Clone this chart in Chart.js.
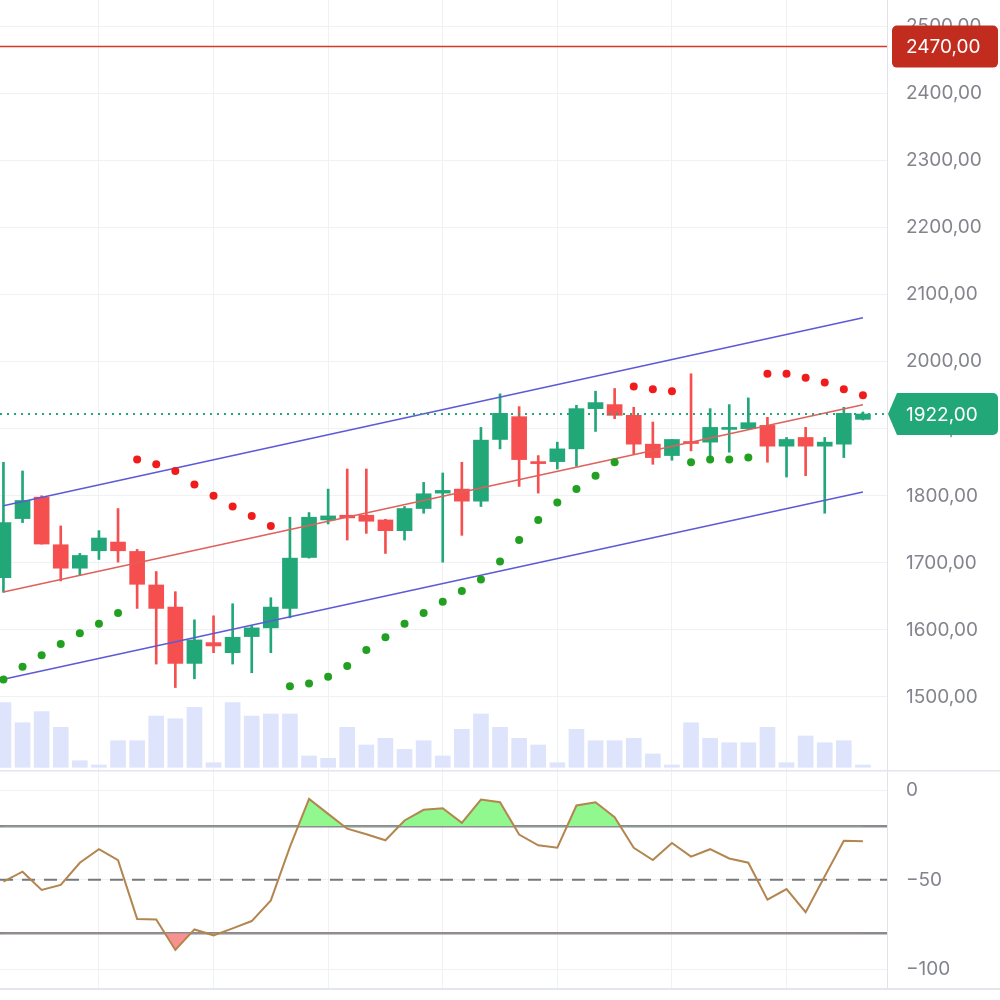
<!DOCTYPE html>
<html>
<head>
<meta charset="utf-8">
<title>Price chart</title>
<script src="https://cdn.jsdelivr.net/npm/chart.js@4.4.1/dist/chart.umd.min.js"></script>
<style>
    html, body { margin: 0; padding: 0; background: #fff; }
    #wrap { position: relative; width: 1000px; height: 1000px; overflow: hidden; }
    #priceBox { position: absolute; left: 0; top: 0; width: 1000px; height: 770px; }
    #oscBox { position: absolute; left: 0; top: 770px; width: 1000px; height: 230px; }
</style>
</head>
<body>
<div id="wrap">
    <div id="priceBox"><canvas id="priceChart"></canvas></div>
    <div id="oscBox"><canvas id="oscChart"></canvas></div>
</div>
<script>
/* Candles + volume + SAR + regression channel, Williams %R below */

const opens  = [1678, 1766, 1798, 1727, 1692, 1718, 1731, 1717, 1667, 1634, 1550, 1581, 1566, 1590, 1603, 1632,
                1708, 1764, 1771, 1771, 1764, 1748, 1781, 1804, 1810, 1792, 1884, 1918, 1851, 1851, 1870, 1930,
                1936, 1920, 1877, 1860, 1881, 1880, 1899, 1900, 1905, 1874, 1887, 1874, 1877, 1914];
const highs  = [1850, 1837, 1800, 1755, 1714, 1748, 1781, 1720, 1687, 1657, 1615, 1621, 1639, 1606, 1648, 1768,
                1775, 1810, 1840, 1840, 1765, 1784, 1820, 1834, 1850, 1902, 1952, 1933, 1860, 1880, 1935, 1956,
                1960, 1932, 1910, 1884, 1982, 1930, 1936, 1946, 1917, 1887, 1902, 1887, 1932, 1925];
const lows   = [1656, 1760, 1728, 1673, 1681, 1705, 1701, 1632, 1549, 1514, 1527, 1566, 1549, 1536, 1566, 1618,
                1707, 1758, 1734, 1744, 1714, 1734, 1774, 1701, 1741, 1784, 1870, 1814, 1804, 1840, 1844, 1896,
                1915, 1862, 1847, 1853, 1867, 1860, 1865, 1899, 1850, 1828, 1830, 1774, 1857, 1913];
const closes = [1760, 1793, 1728, 1692, 1711, 1737, 1718, 1668, 1632, 1550, 1585, 1576, 1589, 1603, 1634, 1707,
                1768, 1770, 1767, 1762, 1748, 1781, 1803, 1808, 1792, 1883, 1923, 1854, 1848, 1870, 1930, 1939,
                1920, 1877, 1857, 1884, 1878, 1902, 1902, 1909, 1874, 1884, 1874, 1880, 1923, 1922];

// volume, thousands
const volumes = [646, 446, 556, 400, 66, 23, 266, 266, 513, 486, 600, 46, 646, 513, 533, 533,
                 113, 90, 400, 223, 290, 180, 266, 113, 380, 533, 400, 290, 223, 46, 380, 266,
                 266, 290, 133, 23, 446, 290, 246, 246, 400, 46, 313, 246, 266, 23];

// parabolic SAR
const sar = [1526, 1545, 1562, 1579, 1595, 1609, 1625, 1854, 1847, 1837, 1817, 1800, 1784, 1770, 1755, 1516,
             1520, 1530, 1546, 1570, 1589, 1609, 1625, 1642, 1658, 1675, 1702, 1734, 1764, 1790, 1810, 1830,
             1850, 1963, 1959, 1956, 1850, 1854, 1854, 1857, 1982, 1982, 1976, 1969, 1959, 1950];

// Williams %R
const williamsR = [-51, -45.4, -55.6, -52.8, -40.4, -32.8, -38.9, -71.9, -72.2, -89.3, -77.8, -81.1, -77.2, -73.1, -61.5, -31.5,
                   -4.6, -13, -21.3, -24.4, -27.8, -16.7, -10.7, -9.8, -18, -5, -6.5, -24.6, -30.6, -32, -8.3, -6.5,
                   -14.8, -32, -38.9, -29.3, -37, -32.8, -38, -40.4, -61.1, -55.2, -68.1, -48, -28.1, -28.3];

// regression channel, value at first and last candle
const channelMid   = [1656.6, 1935.8];
const channelUpper = [1785.2, 2065.5];
const channelLower = [1526.4, 1805.6];

const alertLevel = 2470;
const priceTicks = [1500, 1600, 1700, 1800, 1900, 2000, 2100, 2200, 2300, 2400, 2500];
const oscTicks = [-100, -50, 0];
const oscBands = [-20, -80];
const oscMid = -50;
const xGridTicks = [5, 11, 17, 23, 29, 35, 41];

const UP = '#22a779';
const DOWN = '#f5504f';
const GRID = '#f0f1f5';
const AXIS_TEXT = '#83848d';
const AXIS_LINE = '#e2e3ea';

Chart.defaults.font.family = 'Inter, "Noto Sans", sans-serif';

const idx = closes.map((_, i) => i);
const lastIdx = idx.length - 1;
const candleColors = idx.map(i => closes[i] >= opens[i] ? UP : DOWN);
const sarColors = idx.map(i => sar[i] > closes[i] ? '#f01c1c' : '#22a022');
const fmtPrice = v => v.toFixed(2).replace('.', ',');
const fmtOsc = v => String(v).replace('-', '\u2212');

function timeAxis() {
    return {
        type: 'linear',
        min: -0.18,
        max: 46.26,
        offset: false,
        afterBuildTicks: s => { s.ticks = xGridTicks.map(v => ({ value: v })); },
        afterFit: s => { s.height = 0; },
        ticks: { display: false },
        grid: { color: GRID, drawTicks: false, offset: false },
        border: { display: false },
    };
}

function valueAxis(min, max, ticks, fmt) {
    return {
        position: 'right',
        min: min,
        max: max,
        afterBuildTicks: s => { s.ticks = ticks.map(v => ({ value: v })); },
        afterFit: s => { s.width = 113; s.paddingTop = 0; s.paddingBottom = 0; },
        ticks: { color: AXIS_TEXT, font: { size: 19 }, padding: 19, callback: v => fmt(v) },
        grid: { color: GRID, drawTicks: false },
        border: { color: AXIS_LINE },
    };
}

function channelLine(vals, color) {
    return {
        type: 'line',
        data: [{ x: 0, y: vals[0] }, { x: lastIdx, y: vals[1] }],
        borderColor: color,
        borderWidth: 1.5,
        pointRadius: 0,
        order: 1,
    };
}

const priceMarks = {
    id: 'priceMarks',
    afterDatasetsDraw(chart) {
        const { ctx, chartArea: a, scales: { y } } = chart;
        const ya = y.getPixelForValue(alertLevel);
        const yl = y.getPixelForValue(closes[lastIdx]);
        ctx.save();
        ctx.strokeStyle = '#d23a2c';
        ctx.lineWidth = 1.5;
        ctx.beginPath();
        ctx.moveTo(a.left, ya);
        ctx.lineTo(a.right, ya);
        ctx.stroke();
        ctx.strokeStyle = UP;
        ctx.lineWidth = 2;
        ctx.setLineDash([2, 5]);
        ctx.beginPath();
        ctx.moveTo(a.left, yl);
        ctx.lineTo(a.right, yl);
        ctx.stroke();
        ctx.restore();
    },
    afterDraw(chart) {
        const { ctx, chartArea: a, scales: { y } } = chart;
        const ya = y.getPixelForValue(alertLevel);
        const yl = y.getPixelForValue(closes[lastIdx]);
        const r = chart.width - 2;
        const h = 21;
        ctx.save();
        // alert level tag
        ctx.fillStyle = '#c22c1f';
        ctx.beginPath();
        ctx.roundRect(a.right + 5, ya - h, r - a.right - 5, 2 * h, 5);
        ctx.fill();
        // last price tag with pointer
        const l = a.right + 10;
        ctx.fillStyle = UP;
        ctx.beginPath();
        ctx.moveTo(a.right + 1, yl);
        ctx.lineTo(l, yl - h);
        ctx.lineTo(r - 5, yl - h);
        ctx.arcTo(r, yl - h, r, yl - h + 5, 5);
        ctx.lineTo(r, yl + h - 5);
        ctx.arcTo(r, yl + h, r - 5, yl + h, 5);
        ctx.lineTo(l, yl + h);
        ctx.closePath();
        ctx.fill();
        ctx.fillStyle = '#fff';
        ctx.font = '19px Inter, "Noto Sans", sans-serif';
        ctx.textAlign = 'left';
        ctx.textBaseline = 'middle';
        ctx.fillText(fmtPrice(alertLevel), a.right + 19, ya + 1);
        ctx.fillText(fmtPrice(closes[lastIdx]), a.right + 19, yl + 1);
        ctx.restore();
    },
};

new Chart(document.getElementById('priceChart'), {
    type: 'bar',
    data: {
        datasets: [
            {
                type: 'line',
                label: 'SAR',
                data: idx.map(i => ({ x: i, y: sar[i] })),
                showLine: false,
                pointRadius: 4,
                pointBorderWidth: 0,
                pointBackgroundColor: sarColors,
                order: 0,
            },
            channelLine(channelMid, '#e0605c'),
            channelLine(channelUpper, '#5c5ad6'),
            channelLine(channelLower, '#5c5ad6'),
            {
                label: 'Body',
                data: idx.map(i => ({ x: i, y: [opens[i], closes[i]] })),
                backgroundColor: candleColors,
                barThickness: 15,
                minBarLength: 2,
                grouped: false,
                order: 3,
            },
            {
                label: 'Wick',
                data: idx.map(i => ({ x: i, y: [lows[i], highs[i]] })),
                backgroundColor: candleColors,
                barThickness: 2,
                grouped: false,
                order: 4,
            },
            {
                label: 'Volume',
                yAxisID: 'vol',
                data: idx.map(i => ({ x: i, y: volumes[i] })),
                backgroundColor: '#dee4fc',
                barThickness: 15,
                grouped: false,
                order: 5,
            },
        ],
    },
    options: {
        responsive: true,
        maintainAspectRatio: false,
        animation: false,
        layout: { padding: 0, autoPadding: false },
        plugins: { legend: { display: false }, tooltip: { enabled: false } },
        scales: {
            x: timeAxis(),
            y: valueAxis(1391, 2539.5, priceTicks, fmtPrice),
            vol: { display: false, min: -27, max: 7673 },
        },
    },
    plugins: [priceMarks],
});

const oscMarks = {
    id: 'oscMarks',
    beforeDatasetsDraw(chart) {
        const { ctx, chartArea: a, scales: { y } } = chart;
        ctx.save();
        ctx.strokeStyle = '#898a8e';
        ctx.lineWidth = 2.5;
        oscBands.forEach(v => {
            const py = y.getPixelForValue(v);
            ctx.beginPath();
            ctx.moveTo(a.left, py);
            ctx.lineTo(a.right, py);
            ctx.stroke();
        });
        ctx.lineWidth = 2;
        ctx.strokeStyle = '#77787c';
        ctx.setLineDash([13, 9]);
        const pm = y.getPixelForValue(oscMid);
        ctx.beginPath();
        ctx.moveTo(a.left, pm);
        ctx.lineTo(a.right, pm);
        ctx.stroke();
        ctx.restore();
    },
    afterDraw(chart) {
        const { ctx, chartArea: a } = chart;
        ctx.save();
        ctx.strokeStyle = '#e4e6ee';
        ctx.lineWidth = 2;
        ctx.beginPath();
        ctx.moveTo(0, 0.5);
        ctx.lineTo(chart.width, 0.5);
        ctx.moveTo(0, a.bottom);
        ctx.lineTo(chart.width, a.bottom);
        ctx.stroke();
        ctx.restore();
    },
};

const oscPoints = idx.map(i => ({ x: i, y: williamsR[i] }));

new Chart(document.getElementById('oscChart'), {
    type: 'line',
    data: {
        datasets: [
            {
                label: '%R',
                data: oscPoints,
                borderColor: '#b3854f',
                borderWidth: 2,
                pointRadius: 0,
                tension: 0,
                fill: { target: { value: oscBands[0] }, above: '#90f88f', below: 'rgba(0,0,0,0)' },
            },
            {
                label: '%R oversold',
                data: oscPoints,
                borderColor: 'rgba(0,0,0,0)',
                borderWidth: 1,
                pointRadius: 0,
                tension: 0,
                fill: { target: { value: oscBands[1] }, above: 'rgba(0,0,0,0)', below: '#f89290' },
            },
        ],
    },
    options: {
        responsive: true,
        maintainAspectRatio: false,
        animation: false,
        layout: { padding: { top: 1, bottom: 11 }, autoPadding: false },
        plugins: { legend: { display: false }, tooltip: { enabled: false } },
        scales: {
            x: timeAxis(),
            y: valueAxis(-111.2, 11.05, oscTicks, fmtOsc),
        },
    },
    plugins: [oscMarks],
});
</script>
</body>
</html>
